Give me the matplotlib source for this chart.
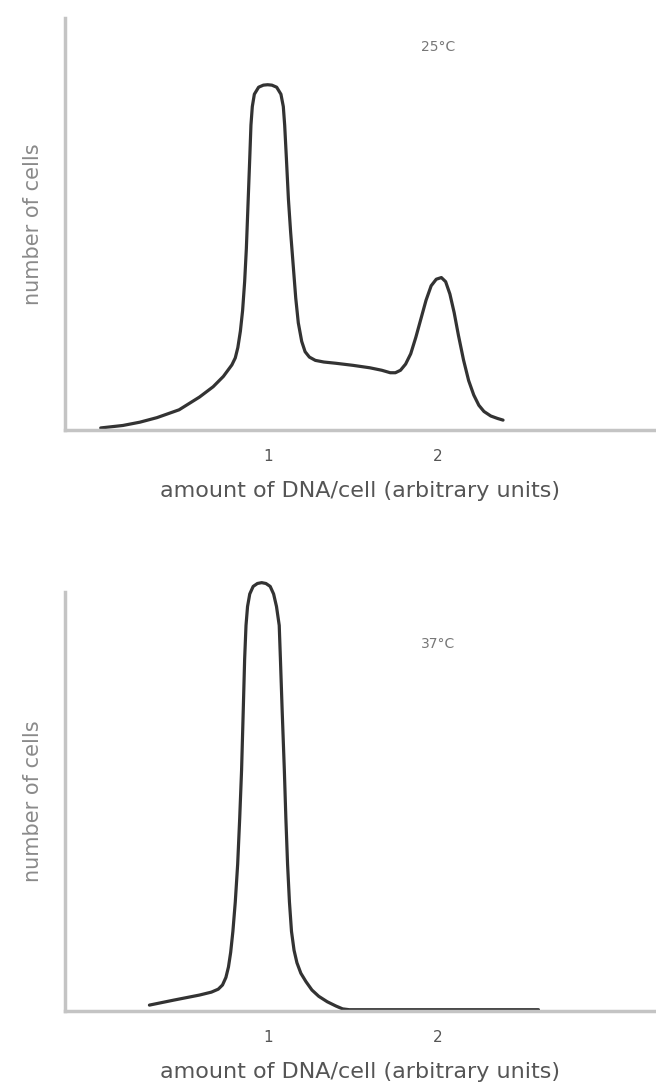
import matplotlib
matplotlib.use("Agg")
import matplotlib.pyplot as plt

# ---- data ----
x_top = [0.02, 0.15, 0.25, 0.35, 0.48, 0.60, 0.68, 0.74, 0.79, 0.81, 0.825, 0.84, 0.853, 0.865,
         0.875, 0.885, 0.895, 0.902, 0.91, 0.922, 0.947, 0.975, 1.0, 1.025, 1.053, 1.078, 1.092,
         1.10, 1.11, 1.122, 1.135, 1.15, 1.165, 1.18, 1.20, 1.22, 1.245, 1.28, 1.33, 1.40, 1.50,
         1.60, 1.67, 1.72, 1.75, 1.78, 1.81, 1.84, 1.87, 1.90, 1.93, 1.96, 1.99, 2.02, 2.045, 2.07,
         2.095, 2.12, 2.15, 2.18, 2.21, 2.24, 2.27, 2.31, 2.35, 2.382]
y_top = [0.005, 0.011, 0.019, 0.03, 0.049, 0.08, 0.105, 0.13, 0.158, 0.175, 0.2, 0.24, 0.29, 0.36,
         0.44, 0.55, 0.66, 0.74, 0.785, 0.815, 0.832, 0.837, 0.838, 0.837, 0.832, 0.815, 0.785,
         0.74, 0.66, 0.56, 0.48, 0.40, 0.32, 0.26, 0.215, 0.19, 0.177, 0.169, 0.165, 0.162, 0.157,
         0.151, 0.145, 0.139, 0.139, 0.145, 0.16, 0.185, 0.225, 0.27, 0.315, 0.35, 0.366, 0.37, 0.36,
         0.33, 0.285, 0.23, 0.17, 0.12, 0.085, 0.06, 0.045, 0.034, 0.028, 0.024]

x_bot = [0.306, 0.45, 0.6, 0.67, 0.71, 0.735, 0.755, 0.77, 0.783, 0.796, 0.81, 0.824, 0.836, 0.847,
         0.857, 0.865, 0.873, 0.882, 0.895, 0.915, 0.94, 0.965, 0.99, 1.015, 1.035, 1.052, 1.068,
         1.075, 1.085, 1.098, 1.107, 1.117, 1.128, 1.14, 1.155, 1.172, 1.195, 1.225, 1.26, 1.30,
         1.35, 1.40, 1.44, 1.48, 2.0, 2.59]
y_bot = [0.014, 0.026, 0.038, 0.045, 0.052, 0.062, 0.08, 0.105, 0.14, 0.19, 0.26, 0.35, 0.46, 0.575,
         0.72, 0.84, 0.92, 0.965, 0.995, 1.013, 1.02, 1.022, 1.02, 1.013, 0.995, 0.965, 0.92,
         0.84, 0.72, 0.575, 0.46, 0.35, 0.26, 0.19, 0.145, 0.115, 0.09, 0.07, 0.05, 0.035,
         0.022, 0.012, 0.005, 0.003, 0.003, 0.003]

tick_vals = [1, 2]
tick_labels = ["1", "2"]
x_label = "amount of DNA/cell (arbitrary units)"
y_label = "number of cells"
temps = ["25°C", "37°C"]

plt.rcParams['font.family'] = ['DejaVu Sans']

fig = plt.figure(figsize=(6.56, 10.9), dpi=100)
ax1 = fig.add_axes([0.099, 0.6055, 0.901, 0.378])
ax2 = fig.add_axes([0.099, 0.0725, 0.901, 0.3845])

axis_col = "#c4c4c4"
for ax, xs, ys, temp, ty in [(ax1, x_top, y_top, temps[0], 0.93), (ax2, x_bot, y_bot, temps[1], 0.875)]:
    ax.plot(xs, ys, color="#333333", lw=2.3, solid_capstyle="round",
            solid_joinstyle="round", clip_on=False)
    ax.set_xlim(-0.19, 3.28)
    ax.set_ylim(0, 1)
    for s in ["top", "right"]:
        ax.spines[s].set_visible(False)
    for s in ["left", "bottom"]:
        ax.spines[s].set_color(axis_col)
        ax.spines[s].set_linewidth(2.5)
    ax.set_yticks([])
    ax.set_xticks(tick_vals)
    ax.set_xticklabels(tick_labels, fontsize=11, color="#555555")
    ax.tick_params(axis="x", length=0, pad=14)
    ax.set_xlabel(x_label, fontsize=16, color="#555555", labelpad=12)
    ax.set_ylabel(y_label, fontsize=15, color="#8a8a8a", labelpad=16)
    ax.text(2.0, ty, temp, fontsize=10, color="#777777", ha="center", va="center",
            transform=ax.transData)

fig.savefig("out.png", dpi=100)
